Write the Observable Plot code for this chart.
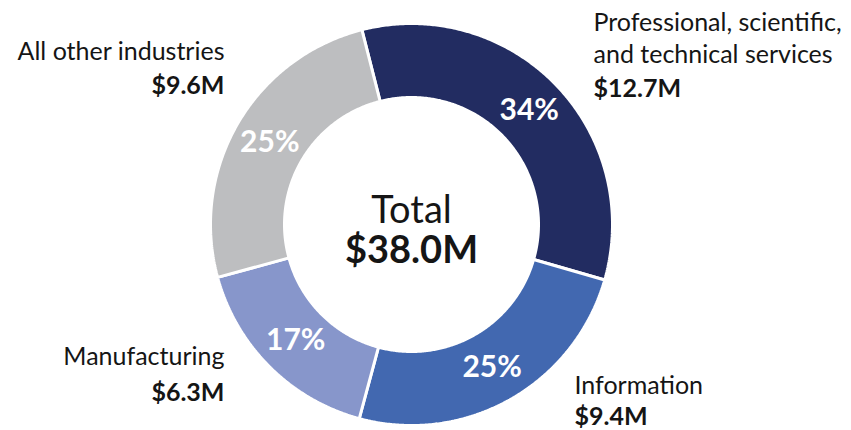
<!DOCTYPE html>
<html><head><meta charset="utf-8">
<script src="https://cdn.jsdelivr.net/npm/d3@7"></script>
<script src="https://cdn.jsdelivr.net/npm/@observablehq/plot@0.6"></script>
<style>
  html,body{margin:0;padding:0;background:#fff;}
  #chart svg{display:block;font-family:Lato,"Open Sans",sans-serif;}
</style>
</head><body><div id="chart"></div>
<script>
// ---- data ----
const keys = ["prof", "info", "manu", "other"];
const categories = ["Professional, scientific,\nand technical services", "Information", "Manufacturing", "All other industries"];
const values = [12.7, 9.4, 6.3, 9.6];            // $M
const valueLabels = ["$12.7M", "$9.4M", "$6.3M", "$9.6M"];
const percentLabels = ["34%", "25%", "17%", "25%"];
const colors = ["#222c61", "#4268b0", "#8796cb", "#bdbec0"];
const totalTitle = "Total";

// ---- layout ----
const W = 851, H = 430;
const cx = 411, cy = 224, R = 201, r = 127;
const startDeg = -14.3;
const total = d3.sum(values);
const totalLabel = "$" + total.toFixed(1) + "M";

const slices = [];
let cum = 0;
values.forEach((v, i) => {
  const a0 = (startDeg * Math.PI / 180) + cum / total * 2 * Math.PI;
  cum += v;
  const a1 = (startDeg * Math.PI / 180) + cum / total * 2 * Math.PI;
  slices.push({key: keys[i], a0, a1, mid: (a0 + a1) / 2});
});
const px = (rad, a) => cx + rad * Math.sin(a);
const py = (rad, a) => cy - rad * Math.cos(a);

const points = [];
slices.forEach(s => {
  const n = Math.max(2, Math.ceil((s.a1 - s.a0) / (Math.PI / 360)));
  const ring = [];
  for (let k = 0; k <= n; k++) { const a = s.a0 + (s.a1 - s.a0) * k / n; ring.push({key: s.key, x: px(R, a), y: py(R, a)}); }
  for (let k = n; k >= 0; k--) { const a = s.a0 + (s.a1 - s.a0) * k / n; ring.push({key: s.key, x: px(r, a), y: py(r, a)}); }
  ring.push({...ring[0]});
  points.push(...ring);
});

const pctData = slices.map((s, i) => ({x: px((R + r) / 2, s.mid), y: py((R + r) / 2, s.mid), text: percentLabels[i]}));

// outer label anchors (layout)
const labelPos = [
  {x: 593, yName: 62, yVal: 96, anchor: "start"},
  {x: 574, yName: 393, yVal: 424, anchor: "start"},
  {x: 224, yName: 364, yVal: 400, anchor: "end"},
  {x: 224, yName: 59, yVal: 93, anchor: "end"}
];
const nameData = categories.map((c, i) => ({x: labelPos[i].x, y: labelPos[i].yName, text: c, anchor: labelPos[i].anchor}));
const valData = valueLabels.map((c, i) => ({x: labelPos[i].x, y: labelPos[i].yVal, text: c, anchor: labelPos[i].anchor}));
const ink = "#151515";

const textMarks = (data, opts) => ["start", "end"].map(a =>
  Plot.text(data.filter(d => d.anchor === a), {x: "x", y: "y", text: "text", textAnchor: a, lineAnchor: "bottom", fill: ink, ...opts}));

const chart = Plot.plot({
  width: W, height: H, margin: 0,
  style: {background: "#fff", fontFamily: "Lato, 'Open Sans', sans-serif"},
  x: {domain: [0, W], range: [0, W], axis: null},
  y: {domain: [0, H], range: [0, H], axis: null},
  color: {domain: keys, range: colors},
  marks: [
    Plot.line(points, {x: "x", y: "y", z: "key", fill: "key", stroke: "white", strokeWidth: 3, strokeLinejoin: "miter", curve: "linear"}),
    Plot.text(pctData, {x: "x", y: "y", text: "text", fill: "white", fontSize: 30, fontWeight: "bold", lineAnchor: "middle"}),
    ...textMarks(nameData, {fontSize: 25, lineHeight: 1.28}),
    ...textMarks(valData, {fontSize: 25, fontWeight: "bold"}),
    Plot.text([totalTitle], {x: () => cx, y: () => 222, text: d => d, fontSize: 38, lineAnchor: "bottom", fill: ink}),
    Plot.text([totalLabel], {x: () => cx, y: () => 262, text: d => d, fontSize: 38, fontWeight: "bold", lineAnchor: "bottom", fill: ink})
  ]
});
document.getElementById("chart").appendChild(chart);
</script>
</body></html>
